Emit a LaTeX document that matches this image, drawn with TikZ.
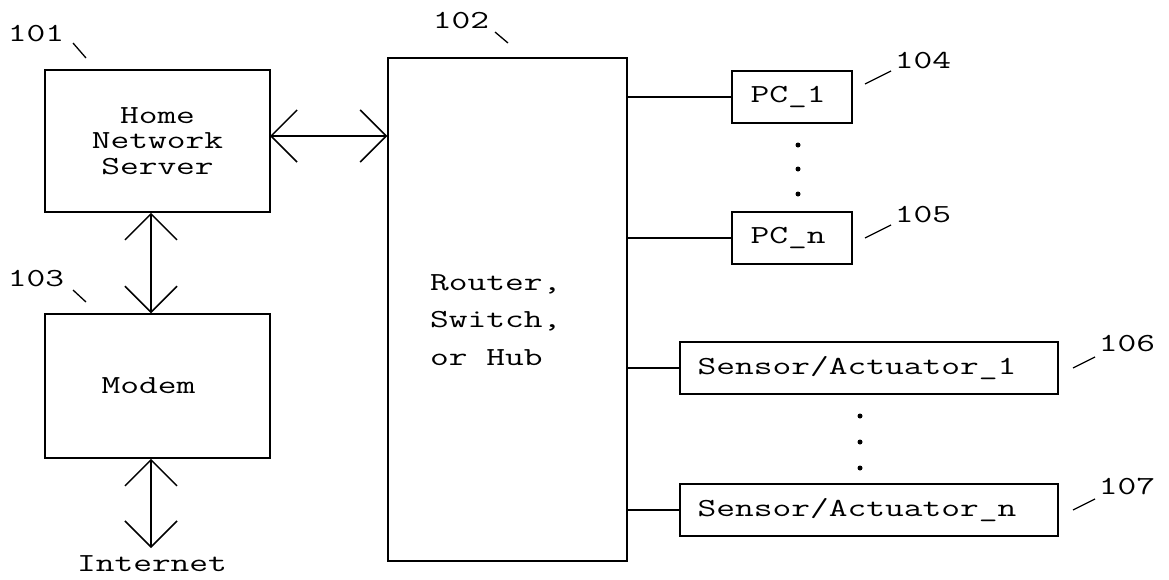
\documentclass[tikz,border=0pt]{standalone}
\usepackage{fontspec}
\newfontfamily\pfont[FakeStretch=1.40]{Latin Modern Mono}
\usetikzlibrary{arrows.meta}

\tikzset{
  txt/.style={font=\pfont\fontsize{26}{25.5}\selectfont, inner sep=0pt},
  blk/.style={draw, line width=1.5pt, inner sep=0pt, txt},
  link/.style={line width=1.5pt},
  barb/.tip={Straight Barb[length=26pt,width=52pt]},
  dblarrow/.style={line width=1.5pt, barb-barb},
  lead/.style={line width=1.3pt},
  dotmark/.style={circle, fill, inner sep=0pt, minimum size=5pt}
}

\begin{document}
\begin{tikzpicture}[x=1pt, y=-1pt]
\useasboundingbox (0,0) rectangle (1169,579);

% main blocks
\node[blk, minimum width=225pt, minimum height=142pt, align=center] (srv) at (157.5,141) {Home\\Network\\ Server};
\node[blk, minimum width=225pt, minimum height=144pt] (modem) at (157.5,386) {\hspace*{-18pt}Modem};
\node[blk, minimum width=239pt, minimum height=503pt] (router) at (507.5,309.5) {};
\node[txt, anchor=west, align=left, font=\pfont\fontsize{26}{37.5}\selectfont] (routertxt) at (430,320) {Router,\\Switch,\\or Hub};

% end devices
\node[blk, minimum width=120pt, minimum height=52pt] (pc1) at (792,97) {PC\_1\hspace*{8pt}};
\node[blk, minimum width=120pt, minimum height=52pt] (pcn) at (792,238) {PC\_n\hspace*{8pt}};
\node[blk, minimum width=378pt, minimum height=52pt] (sa1) at (869,368) {Sensor/Actuator\_1\hspace*{24pt}};
\node[blk, minimum width=378pt, minimum height=52pt] (san) at (869,510) {Sensor/Actuator\_n\hspace*{24pt}};

\node[txt] (inet) at (152,564) {Internet};

% ellipsis dots
\node[dotmark] (p1) at (798,145) {};
\node[dotmark] (p2) at (798,169) {};
\node[dotmark] (p3) at (798,194) {};
\node[dotmark] (s1) at (860,416) {};
\node[dotmark] (s2) at (860,442) {};
\node[dotmark] (s3) at (860,468) {};

% bidirectional links
\coordinate (hx) at (270,136);
\coordinate (vx) at (151,0);
\coordinate (inettop) at (151,548);
\draw[dblarrow] (hx) -- (hx -| router.west);
\draw[dblarrow] (srv.south -| vx) -- (modem.north -| vx);
\draw[dblarrow] (modem.south -| vx) -- (inettop);

% router ports
\draw[link] (router.east |- pc1) -- (pc1.west);
\draw[link] (router.east |- pcn) -- (pcn.west);
\draw[link] (router.east |- sa1) -- (sa1.west);
\draw[link] (router.east |- san) -- (san.west);

% reference numerals with leader ticks
\node[txt] (n101) at (36,34) {101};
\node[txt] (n102) at (461,21) {102};
\node[txt] (n103) at (36,279) {103};
\node[txt] (n104) at (923,61) {104};
\node[txt] (n105) at (923,215) {105};
\node[txt] (n106) at (1127,344) {106};
\node[txt] (n107) at (1127,487) {107};

\coordinate (t101a) at (73,43);  \coordinate (t101b) at (86,58);
\coordinate (t102a) at (495,32); \coordinate (t102b) at (508,43);
\coordinate (t103a) at (73,290); \coordinate (t103b) at (86,302);
\coordinate (t104a) at (865,84); \coordinate (t104b) at (891,71);
\coordinate (t105a) at (865,238); \coordinate (t105b) at (891,225);
\coordinate (t106a) at (1073,368); \coordinate (t106b) at (1095,357);
\coordinate (t107a) at (1073,510); \coordinate (t107b) at (1095,499);
\foreach \k in {101,102,103,104,105,106,107}
  \draw[lead] (t\k a) -- (t\k b);
\end{tikzpicture}
\end{document}
